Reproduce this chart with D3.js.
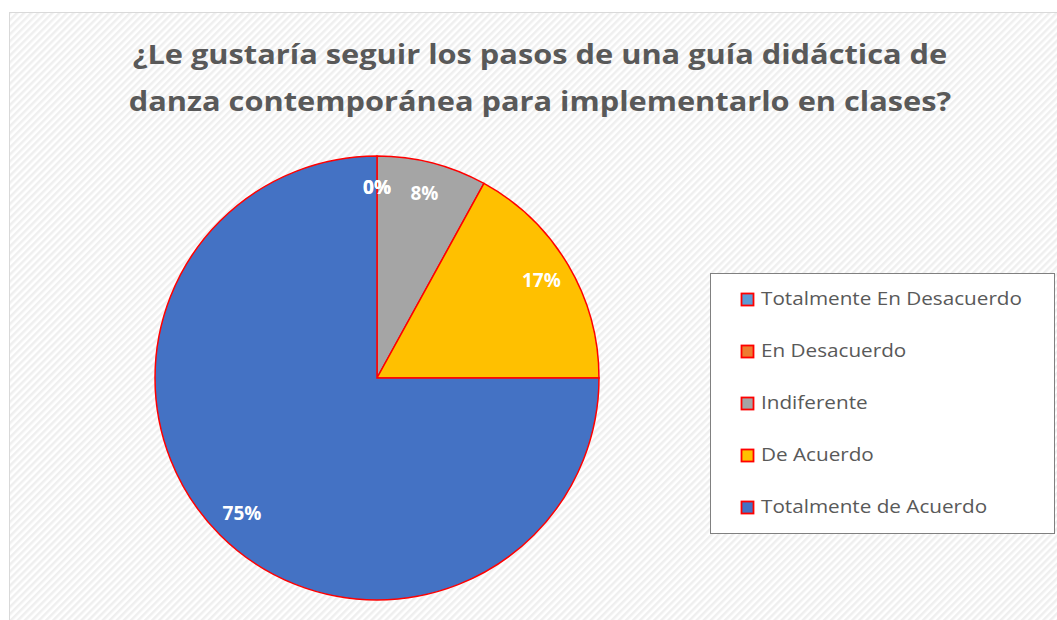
<!DOCTYPE html>
<html>
<head>
<meta charset="utf-8">
<script src="https://cdn.jsdelivr.net/npm/d3@7"></script>
<style>
  body { margin: 0; background: #fff; }
  svg { display: block; font-family: "Open Sans", sans-serif; }
</style>
</head>
<body>
<svg></svg>
<script>
var width = 1057;
var height = 620;

// data
var categories = ["Totalmente En Desacuerdo", "En Desacuerdo", "Indiferente", "De Acuerdo", "Totalmente de Acuerdo"];
var values = [0, 0, 8, 17, 75];
var colors = ["#5b9bd5", "#ed7d31", "#a5a5a5", "#ffc000", "#4472c4"];
var titleLines = ["¿Le gustaría seguir los pasos de una guía didáctica de", "danza contemporánea para implementarlo en clases?"];

var svg = d3.select('svg')
    .attr('width', width)
    .attr('height', height);

// hatched background
var defs = svg.append('defs');
var pat = defs.append('pattern')
    .attr('id', 'hatch')
    .attr('patternUnits', 'userSpaceOnUse')
    .attr('width', 5)
    .attr('height', 5)
    .attr('patternTransform', 'rotate(45)');
pat.append('rect').attr('width', 5).attr('height', 5).attr('fill', '#ffffff');
pat.append('rect').attr('width', 2.5).attr('height', 5).attr('fill', '#efefef');

svg.append('rect')
    .attr('x', 9.5)
    .attr('y', 12.5)
    .attr('width', width)
    .attr('height', height)
    .attr('fill', 'url(#hatch)')
    .attr('stroke', '#d9d9d9')
    .attr('stroke-width', 1);

//title (the original font is wider, so stretch it a bit)
svg.append('g')
    .attr('transform', 'translate(540, 0) scale(1.14, 1)')
    .selectAll('text')
    .data(titleLines)
    .enter()
    .append('text')
        .attr('x', 0)
        .attr('y', (d, i) => 64 + i * 47)
        .attr('text-anchor', 'middle')
        .attr('font-size', 27)
        .attr('font-weight', 'bold')
        .attr('fill', '#595959')
        .text(d => d);

//pie
var cx = 377, cy = 378, radius = 222;
var data = categories.map((c, i) => ({name: c, value: values[i], color: colors[i]}));

var arcs = d3.pie()
    .sort(null)
    .value(d => d.value)
    (data);

var path = d3.arc()
    .outerRadius(radius)
    .innerRadius(0);

var labelArc = d3.arc()
    .outerRadius(radius * 0.86)
    .innerRadius(radius * 0.86);

var chart = svg.append('g')
    .attr('transform', `translate(${cx}, ${cy})`);

chart.selectAll('.arc')
    .data(arcs)
    .enter()
    .append('path')
        .classed('arc', true)
        .attr('fill', d => d.data.color)
        .attr('stroke', '#ff0000')
        .attr('stroke-width', 1.5)
        .attr('d', path);

chart.selectAll('.lbl')
    .data(arcs)
    .enter()
    .append('text')
        .classed('lbl', true)
        .attr('transform', d => `translate(${labelArc.centroid(d)})`)
        .attr('text-anchor', 'middle')
        .attr('dy', '0.35em')
        .attr('font-size', 19)
        .attr('font-weight', 'bold')
        .attr('fill', '#ffffff')
        .text(d => d.data.value + '%');

//legend
var legend = svg.append('g');
legend.append('rect')
    .attr('x', 710.5)
    .attr('y', 273.5)
    .attr('width', 344)
    .attr('height', 260)
    .attr('fill', '#ffffff')
    .attr('stroke', '#808080')
    .attr('stroke-width', 1);

var item = legend.selectAll('.item')
    .data(data)
    .enter()
    .append('g')
        .classed('item', true)
        .attr('transform', (d, i) => `translate(741, ${299 + i * 52})`);

item.append('rect')
    .attr('x', 0.5)
    .attr('y', -5.5)
    .attr('width', 12)
    .attr('height', 12)
    .attr('fill', d => d.color)
    .attr('stroke', '#ff0000')
    .attr('stroke-width', 1.8);

item.append('text')
    .attr('transform', 'translate(20, 0) scale(1.15, 1)')
    .attr('dy', '0.35em')
    .attr('font-size', 18)
    .attr('fill', '#595959')
    .text(d => d.name);
</script>
</body>
</html>
